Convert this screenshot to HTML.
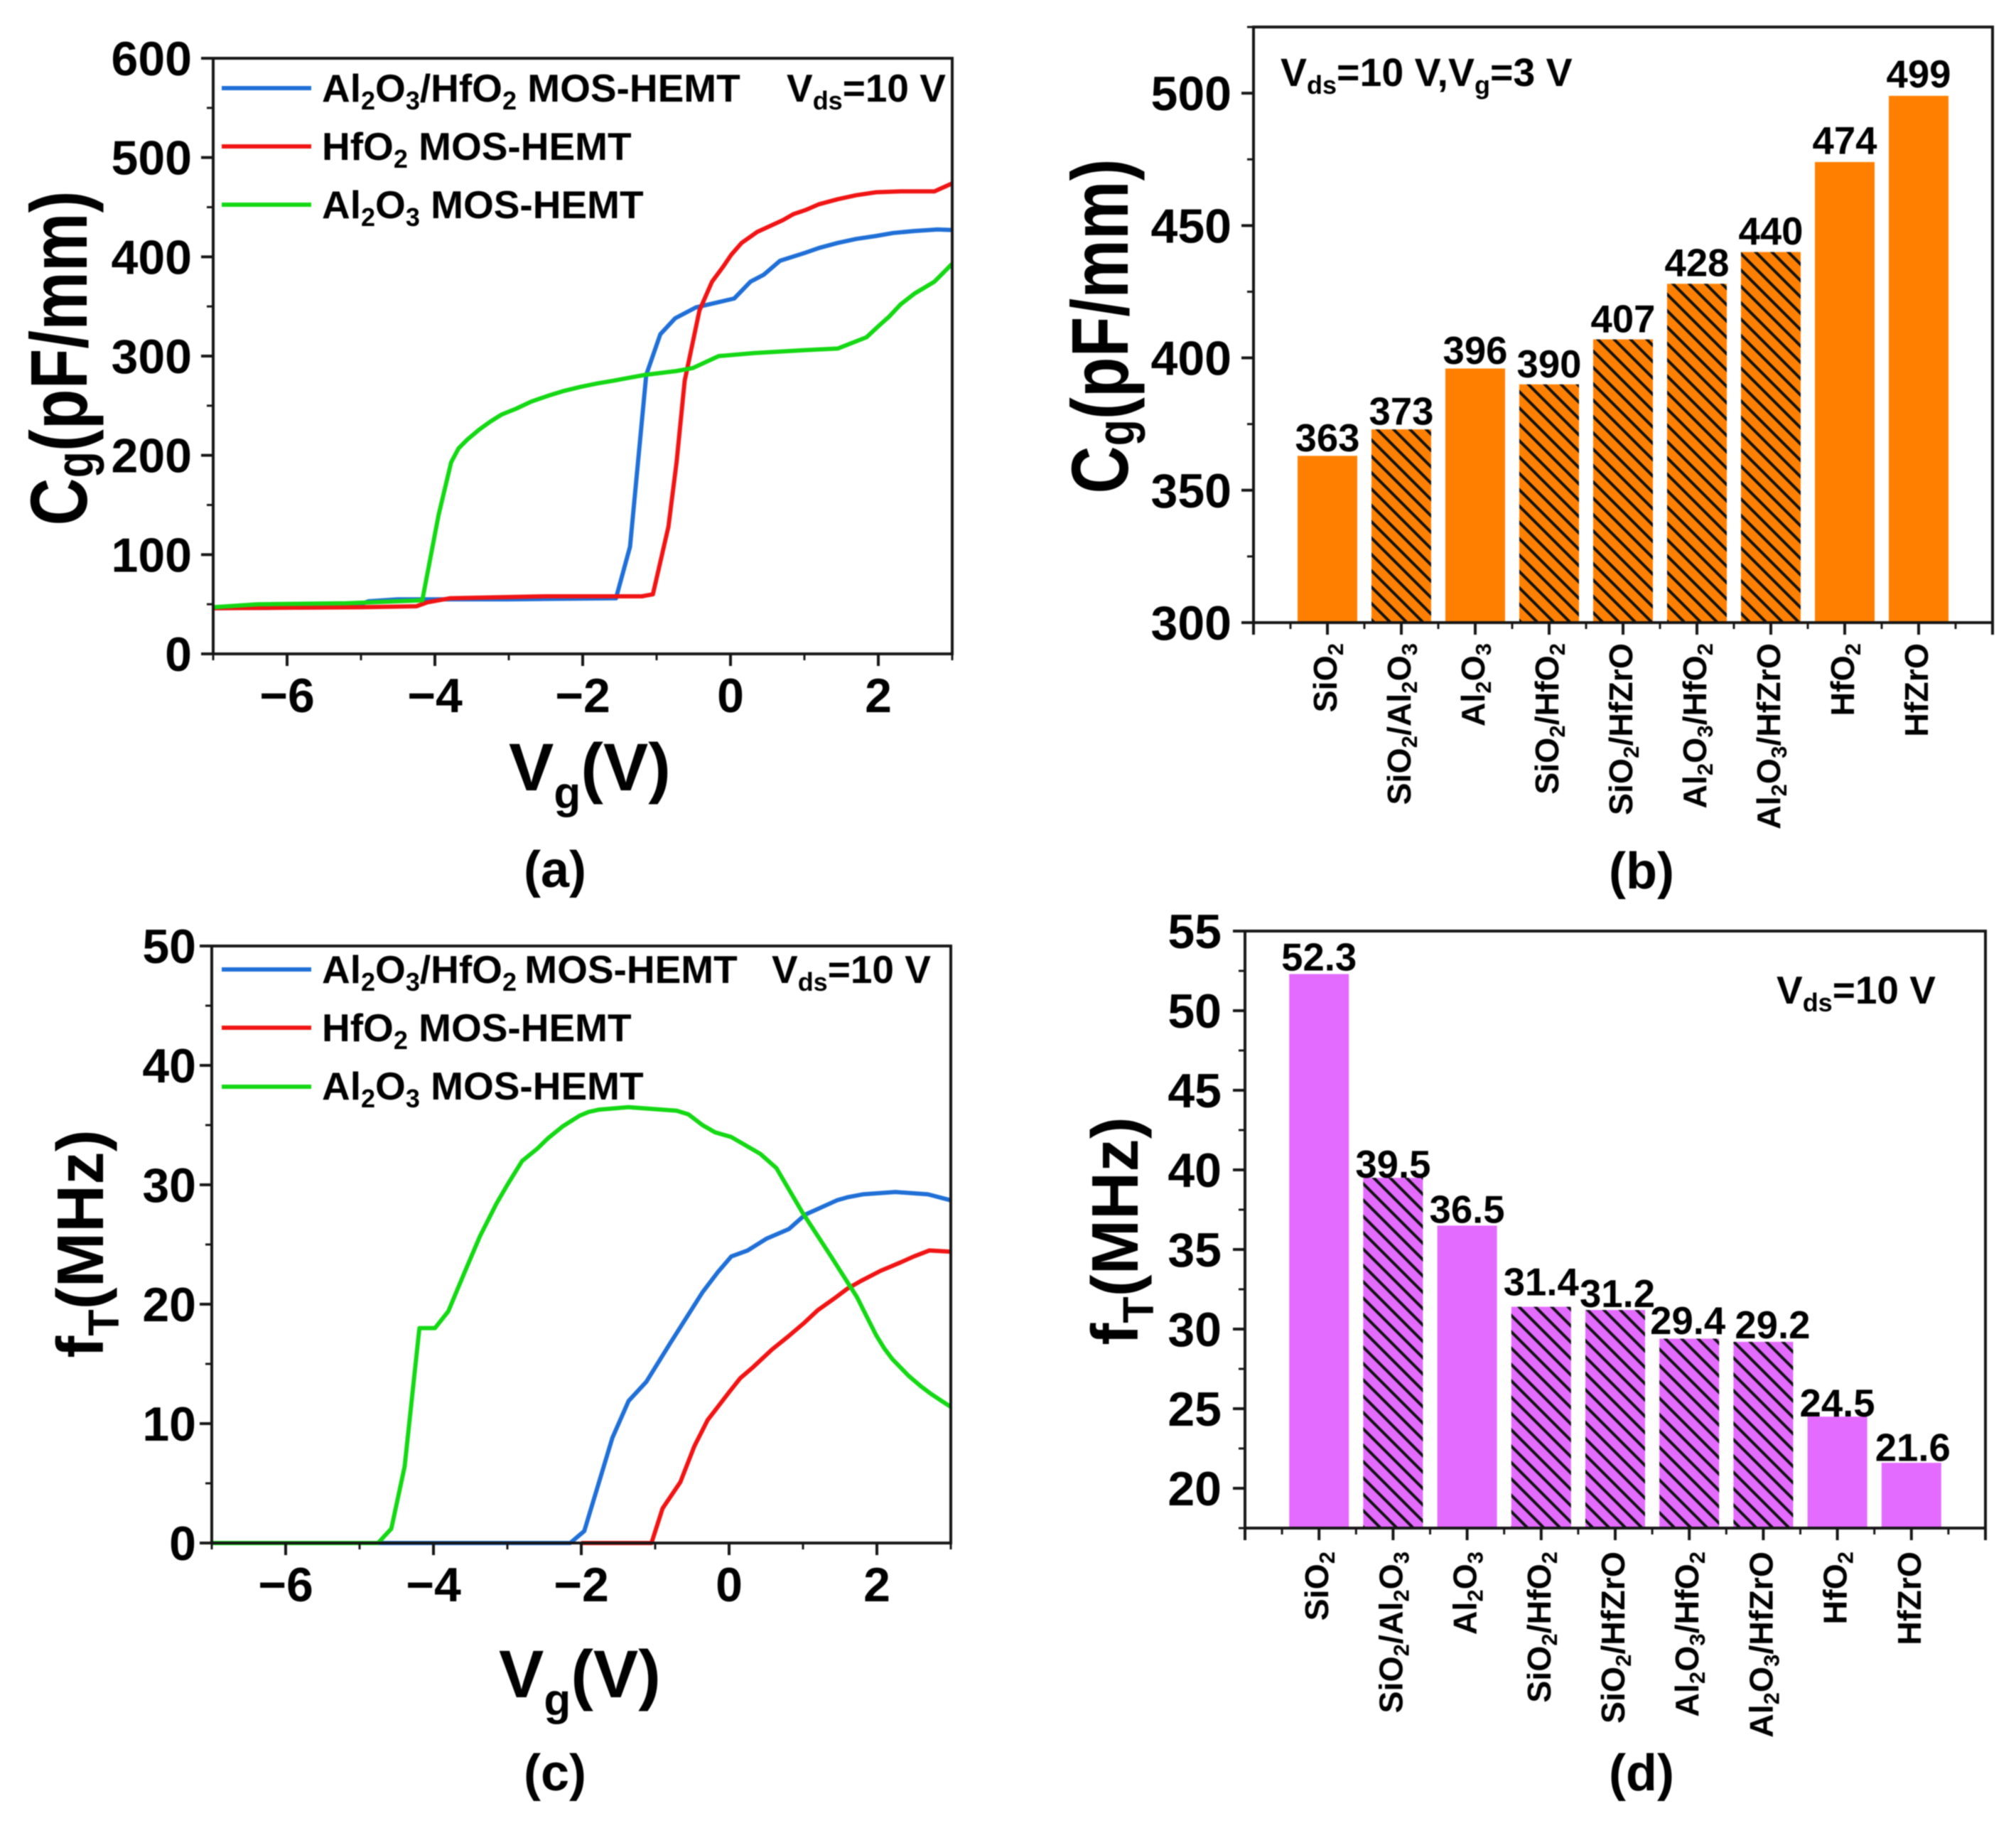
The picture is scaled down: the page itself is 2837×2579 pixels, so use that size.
<!DOCTYPE html>
<html lang="en">
<head>
<meta charset="utf-8">
<title>MOS-HEMT gate capacitance and cut-off frequency</title>
<style>
html,body{margin:0;padding:0;background:#fff;}
svg{display:block;filter:blur(0.7px);}
text{font-family:"Liberation Sans",Arial,sans-serif;font-weight:bold;fill:#000;}
</style>
</head>
<body>
<svg id="figure" xmlns="http://www.w3.org/2000/svg" width="2837" height="2579" viewBox="0 0 2837 2579">
<defs>
<pattern id="hatch" patternUnits="userSpaceOnUse" width="23" height="23">
<path d="M0,0L23,23M-5,18L5,28M18,-5L28,5" stroke="#111" stroke-width="4" fill="none"/>
</pattern>
</defs>
<rect x="0" y="0" width="2837" height="2579" fill="#fff"/>

<g id="panel-a"></g>
<g id="panel-b"></g>
<g id="panel-c"></g>
<g id="panel-d"></g>

<!-- Panel (a) labels -->
<text transform="translate(122,504) rotate(-90) scale(1,1.22)" text-anchor="middle" font-size="93">C<tspan font-size="61" dy="7">g</tspan><tspan dy="-7">(pF/mm)</tspan></text>
<text x="830" y="1112" text-anchor="middle" font-size="95">V<tspan font-size="62" dy="25">g</tspan><tspan dy="-25">(V)</tspan></text>
<text x="781" y="1248" text-anchor="middle" font-size="72">(a)</text>
<g>
<line x1="312" x2="438" y1="124" y2="124" stroke="#1f6fd6" stroke-width="6"/>
<text x="453" y="143" font-size="55">Al<tspan font-size="36" dy="11">2</tspan><tspan dy="-11">O</tspan><tspan font-size="36" dy="11">3</tspan><tspan dy="-11">/HfO</tspan><tspan font-size="36" dy="11">2</tspan><tspan dy="-11"> MOS-HEMT</tspan></text>
<line x1="312" x2="438" y1="206" y2="206" stroke="#f01414" stroke-width="6"/>
<text x="453" y="225" font-size="55">HfO<tspan font-size="36" dy="11">2</tspan><tspan dy="-11"> MOS-HEMT</tspan></text>
<line x1="312" x2="438" y1="288" y2="288" stroke="#14d814" stroke-width="6"/>
<text x="453" y="307" font-size="55">Al<tspan font-size="36" dy="11">2</tspan><tspan dy="-11">O</tspan><tspan font-size="36" dy="11">3</tspan><tspan dy="-11"> MOS-HEMT</tspan></text>
</g>
<text x="1107" y="143" font-size="55">V<tspan font-size="36" dy="11">ds</tspan><tspan dy="-11">=10 V</tspan></text>

<!-- Panel (b) labels -->
<text transform="translate(1587,459) rotate(-90) scale(1,1.22)" text-anchor="middle" font-size="93">C<tspan font-size="61" dy="7">g</tspan><tspan dy="-7">(pF/mm)</tspan></text>
<text x="2310" y="1250" text-anchor="middle" font-size="72">(b)</text>
<text x="1802" y="121" font-size="55.5">V<tspan font-size="36" dy="11">ds</tspan><tspan dy="-11">=10 V,V</tspan><tspan font-size="36" dy="11">g</tspan><tspan dy="-11">=3 V</tspan></text>

<!-- Panel (c) labels -->
<text transform="translate(145,1750) rotate(-90)" text-anchor="middle" font-size="93">f<tspan font-size="61" dy="22">T</tspan><tspan dy="-22">(MHz)</tspan></text>
<text x="816" y="2388" text-anchor="middle" font-size="95">V<tspan font-size="62" dy="25">g</tspan><tspan dy="-25">(V)</tspan></text>
<text x="781" y="2519" text-anchor="middle" font-size="72">(c)</text>
<g>
<line x1="312" x2="438" y1="1364" y2="1364" stroke="#1f6fd6" stroke-width="6"/>
<text x="453" y="1383" font-size="55">Al<tspan font-size="36" dy="11">2</tspan><tspan dy="-11">O</tspan><tspan font-size="36" dy="11">3</tspan><tspan dy="-11">/HfO</tspan><tspan font-size="36" dy="11">2</tspan><tspan dy="-11" dx="-4"> MOS-HEMT</tspan></text>
<line x1="312" x2="438" y1="1446" y2="1446" stroke="#f01414" stroke-width="6"/>
<text x="453" y="1465" font-size="55">HfO<tspan font-size="36" dy="11">2</tspan><tspan dy="-11"> MOS-HEMT</tspan></text>
<line x1="312" x2="438" y1="1529" y2="1529" stroke="#14d814" stroke-width="6"/>
<text x="453" y="1547" font-size="55">Al<tspan font-size="36" dy="11">2</tspan><tspan dy="-11">O</tspan><tspan font-size="36" dy="11">3</tspan><tspan dy="-11"> MOS-HEMT</tspan></text>
</g>
<text x="1086" y="1383" font-size="55">V<tspan font-size="36" dy="11">ds</tspan><tspan dy="-11">=10 V</tspan></text>

<!-- Panel (d) labels -->
<text transform="translate(1601,1732) rotate(-90)" text-anchor="middle" font-size="93">f<tspan font-size="61" dy="22">T</tspan><tspan dy="-22">(MHz)</tspan></text>
<text x="2310" y="2519" text-anchor="middle" font-size="72">(d)</text>
<text x="2500" y="1412" font-size="55">V<tspan font-size="36" dy="11">ds</tspan><tspan dy="-11">=10 V</tspan></text>
</svg>

<script>
// ---- Panel (a): Cg vs Vg ----
const cgVgBlue = [-7,-5.3,-5,-4.9,-4.5,-3,-1.55,-1.36,-1.14,-0.95,-0.75,-0.47,0.05,0.27,0.45,0.67,1.01,1.2,1.45,1.7,1.97,2.2,2.49,2.8,3];
const cgBlue   = [46,47,50,53,55,55,56,108,281,322,338,349,358,375,382,396,404,409,414,418,421,424,426,427.5,427];
const cgVgRed  = [-7,-5,-4.25,-4.1,-3.8,-2.5,-1.2,-1.05,-0.84,-0.73,-0.62,-0.42,-0.25,-0.1,0.01,0.15,0.36,0.71,0.85,1.01,1.2,1.45,1.7,1.97,2.3,2.76,3];
const cgRed    = [46,47,48,52,56,58,58,60,128,193,275,346,375,390,402,414,425,437,443,447,453,458,462,465,466,466,474];
const cgVgGreen = [-7,-6.4,-5.2,-4.17,-3.95,-3.78,-3.68,-3.56,-3.4,-3.25,-3.1,-2.9,-2.7,-2.47,-2.25,-2.03,-1.8,-1.6,-1.16,-0.73,-0.51,-0.16,0.32,1.01,1.45,1.84,2,2.15,2.3,2.49,2.76,3];
const cgGreen   = [47,50,51,54,140,193,207,216,226,234,241,247,254,260,265,269,272.5,275,281,285,288,300,303,306,307.6,319,330,340,352,363,375,393];
const cgTickLabels = ['0','100','200','300','400','500','600'];
const vgTickLabels = ['\u22126','\u22124','\u22122','0','2'];

// ---- Panel (c): fT vs Vg ----
const ftVgBlue = [-7,-2.15,-1.96,-1.58,-1.36,-1.12,-0.8,-0.36,-0.15,0.03,0.25,0.51,0.81,1.03,1.46,1.6,1.81,2.25,2.69,3];
const ftBlue   = [0,0,1,8.8,11.9,13.5,16.7,21,22.7,24,24.5,25.5,26.3,27.5,28.7,28.95,29.2,29.4,29.2,28.7];
const ftVgRed  = [-2,-1.05,-0.9,-0.66,-0.47,-0.29,-0.14,0.01,0.15,0.32,0.58,0.8,1.01,1.2,1.45,1.6,1.8,2.05,2.32,2.5,2.71,3];
const ftRed    = [0,0,2.9,5.1,8.1,10.3,11.5,12.7,13.8,14.7,16.2,17.3,18.4,19.5,20.6,21.3,22,22.8,23.5,24,24.5,24.4];
const ftVgGreen = [-7,-4.75,-4.57,-4.39,-4.19,-3.98,-3.8,-3.59,-3.37,-3.15,-3,-2.9,-2.8,-2.6,-2.45,-2.25,-2.02,-1.9,-1.76,-1.36,-0.71,-0.55,-0.36,-0.19,0.03,0.42,0.64,0.99,1.38,1.73,1.86,1.99,2.1,2.21,2.43,2.6,2.73,2.9,3];
const ftGreen   = [0,0,1.2,6.4,18,18,19.4,22.5,25.7,28.4,30,31,32,33,33.9,34.9,35.8,36.1,36.3,36.5,36.2,35.9,35,34.4,34,32.6,31.4,27.7,24,20.6,19,17.4,16.3,15.4,14,13.1,12.5,11.8,11.4];
const ftTickLabels = ['0','10','20','30','40','50'];

// ---- Panels (b) and (d): bar charts ----
const cgCategories = ['SiO2','SiO2/Al2O3','Al2O3','SiO2/HfO2','SiO2/HfZrO','Al2O3/HfO2','Al2O3/HfZrO','HfO2','HfZrO'];
const cgValues = [363,373,396,390,407,428,440,474,499];
const cgBilayer = [false,true,false,true,true,true,true,false,false];
const cgBarTickLabels = ['300','350','400','450','500'];

const ftCategories = ['SiO2','SiO2/Al2O3','Al2O3','SiO2/HfO2','SiO2/HfZrO','Al2O3/HfO2','Al2O3/HfZrO','HfO2','HfZrO'];
const ftValues = [52.3,39.5,36.5,31.4,31.2,29.4,29.2,24.5,21.6];
const ftBilayer = [false,true,false,true,true,true,true,false,false];
const ftBarTickLabels = ['20','25','30','35','40','45','50','55'];

const SVGNS = 'http://www.w3.org/2000/svg';
const AXIS_COLOR = '#151515';

function shape(parent, tag) {
  const el = document.createElementNS(SVGNS, tag);
  parent.appendChild(el);
  return el;
}
function setLine(el, x1, y1, x2, y2, width) {
  el.setAttribute('x1', x1);
  el.setAttribute('y1', y1);
  el.setAttribute('x2', x2);
  el.setAttribute('y2', y2);
  el.setAttribute('stroke', AXIS_COLOR);
  el.setAttribute('stroke-width', width);
}
function linear(d0, d1, r0, r1) {
  return v => r0 + (v - d0) * (r1 - r0) / (d1 - d0);
}
function drawFrame(g, box) {
  const f = shape(g, 'rect');
  
  
  f.setAttribute('x', box.left);
  f.setAttribute('y', box.top);
  f.setAttribute('width', box.right - box.left);
  f.setAttribute('height', box.bottom - box.top);
  f.setAttribute('fill', 'none');
  f.setAttribute('stroke', AXIS_COLOR);
  f.setAttribute('stroke-width', 4);
}
function drawYAxis(g, box, y, labels, start, step, minorStart, minorStep, labelRight, maxVal) {
  labels.forEach((lab, i) => {
    const v = start + i * step;
    const t = shape(g, 'line');
    
    
    setLine(t, box.left - 17, y(v), box.left, y(v), 4);
    const txt = shape(g, 'text');
    
    
    txt.setAttribute('x', labelRight);
    txt.setAttribute('y', y(v) + 24);
    txt.setAttribute('text-anchor', 'end');
    txt.setAttribute('font-size', 68);
    txt.textContent = lab;
  });
  for (let v = minorStart; v <= maxVal; v += minorStep) {
    const t = shape(g, 'line');
    
    
    setLine(t, box.left - 9, y(v), box.left, y(v), 3);
  }
}
function drawVgXAxis(g, box, x) {
  vgTickLabels.forEach((lab, i) => {
    const v = -6 + i * 2;
    const t = shape(g, 'line');
    
    
    setLine(t, x(v), box.bottom, x(v), box.bottom + 17, 4);
    const txt = shape(g, 'text');
    
    
    txt.setAttribute('x', x(v));
    txt.setAttribute('y', box.bottom + 82);
    txt.setAttribute('text-anchor', 'middle');
    txt.setAttribute('font-size', 68);
    txt.textContent = lab;
  });
  for (let v = -7; v <= 3; v += 2) {
    const t = shape(g, 'line');
    
    
    setLine(t, x(v), box.bottom, x(v), box.bottom + 9, 3);
  }
}
function drawSeries(g, xs, ys, x, y, color, name) {
  const p = shape(g, 'polyline');
  
  
  p.setAttribute('points', xs.map((v, i) => x(v).toFixed(1) + ',' + y(ys[i]).toFixed(1)).join(' '));
  p.setAttribute('fill', 'none');
  p.setAttribute('stroke', color);
  p.setAttribute('stroke-width', 6);
  p.setAttribute('stroke-linejoin', 'round');
}
function fillCategory(txt, label, size) {
  // digits become subscripts
  label.split(/(\d)/).filter(s => s !== '').forEach((part, i, all) => {
    const ts = document.createElementNS(SVGNS, 'tspan');
    const isSub = /\d/.test(part);
    const prevSub = i > 0 && /\d/.test(all[i - 1]);
    if (isSub) {
      ts.setAttribute('font-size', Math.round(size * 0.66));
      ts.setAttribute('dy', Math.round(size * 0.2));
    } else if (prevSub) {
      ts.setAttribute('dy', -Math.round(size * 0.2));
    }
    ts.textContent = part;
    txt.appendChild(ts);
  });
}
function drawBars(g, box, cats, vals, flags, x, y, color, digits, catEnd, lift, nudge) {
  vals.forEach((v, i) => {
    const cx = x(i + 1);
    const w = 84;
    const b = shape(g, 'rect');
    
    
    b.setAttribute('x', cx - w / 2);
    b.setAttribute('y', y(v));
    b.setAttribute('width', w);
    b.setAttribute('height', box.bottom - y(v));
    b.setAttribute('fill', color);
    if (flags[i]) {
      const h = shape(g, 'rect');
      
      
      h.setAttribute('x', cx - w / 2);
      h.setAttribute('y', y(v));
      h.setAttribute('width', w);
      h.setAttribute('height', box.bottom - y(v));
      h.setAttribute('fill', 'url(#hatch)');
    }
    const t = shape(g, 'text');
    
    
    t.setAttribute('x', cx + nudge[i]);
    t.setAttribute('y', y(v) - lift[i]);
    t.setAttribute('text-anchor', 'middle');
    t.setAttribute('font-size', 54.5);
    t.textContent = v.toFixed(digits);
    const c = shape(g, 'text');
    
    
    c.setAttribute('transform', 'translate(' + (cx + 13) + ',' + catEnd + ') rotate(-90)');
    c.setAttribute('text-anchor', 'end');
    c.setAttribute('font-size', 46.5);
    fillCategory(c, cats[i], 46.5);
  });
  for (let u = 0; u <= 10; u += 1) {
    const t = shape(g, 'line');
    
    
    setLine(t, x(u), box.bottom, x(u), box.bottom + 17, 4);
  }
  for (let u = 0.5; u < 10; u += 1) {
    const m = shape(g, 'line');
    
    
    setLine(m, x(u), box.bottom, x(u), box.bottom + 9, 3);
  }
}

// Panel (a)
(function () {
  const g = document.getElementById('panel-a');
  const box = {left: 300, right: 1340, top: 82, bottom: 920};
  const x = linear(-7, 3, box.left, box.right);
  const y = linear(0, 600, box.bottom, box.top);
  drawSeries(g, cgVgBlue, cgBlue, x, y, '#1f6fd6', 'series-al2o3-hfo2');
  drawSeries(g, cgVgRed, cgRed, x, y, '#f01414', 'series-hfo2');
  drawSeries(g, cgVgGreen, cgGreen, x, y, '#14d814', 'series-al2o3');
  drawFrame(g, box);
  drawYAxis(g, box, y, cgTickLabels, 0, 100, 50, 100, 270, 600);
  drawVgXAxis(g, box, x);
})();

// Panel (b)
(function () {
  const g = document.getElementById('panel-b');
  const box = {left: 1764, right: 2804, top: 38, bottom: 876};
  const x = linear(0, 10, box.left, box.right);
  const y = linear(300, 525, box.bottom, box.top);
  const lift = [6.5,6.5,6.5,10,10,11,10.5,11.5,12];
  const nudge = [0,0,0,0,0,0,0,0,0];
  drawBars(g, box, cgCategories, cgValues, cgBilayer, x, y, '#ff8000', 0, 905, lift, nudge);
  drawFrame(g, box);
  drawYAxis(g, box, y, cgBarTickLabels, 300, 50, 325, 50, 1733, 525);
})();

// Panel (c)
(function () {
  const g = document.getElementById('panel-c');
  const box = {left: 298, right: 1338, top: 1331, bottom: 2171};
  const x = linear(-7, 3, box.left, box.right);
  const y = linear(0, 50, box.bottom, box.top);
  drawSeries(g, ftVgBlue, ftBlue, x, y, '#1f6fd6', 'series-al2o3-hfo2');
  drawSeries(g, ftVgRed, ftRed, x, y, '#f01414', 'series-hfo2');
  drawSeries(g, ftVgGreen, ftGreen, x, y, '#14d814', 'series-al2o3');
  drawFrame(g, box);
  drawYAxis(g, box, y, ftTickLabels, 0, 10, 5, 10, 276, 50);
  drawVgXAxis(g, box, x);
})();

// Panel (d)
(function () {
  const g = document.getElementById('panel-d');
  const box = {left: 1752, right: 2794, top: 1310, bottom: 2150};
  const x = linear(0, 10, box.left, box.right);
  const y = linear(17.5, 55, box.bottom, box.top);
  const lift = [5,0,4,16,4,6.5,5,0,2.5];
  const nudge = [0,0,0,0,3,-2,13,0,2];
  drawBars(g, box, ftCategories, ftValues, ftBilayer, x, y, '#e36bff', 1, 2183, lift, nudge);
  drawFrame(g, box);
  drawYAxis(g, box, y, ftBarTickLabels, 20, 5, 17.5, 5, 1719, 55);
})();
</script>
</body>
</html>
